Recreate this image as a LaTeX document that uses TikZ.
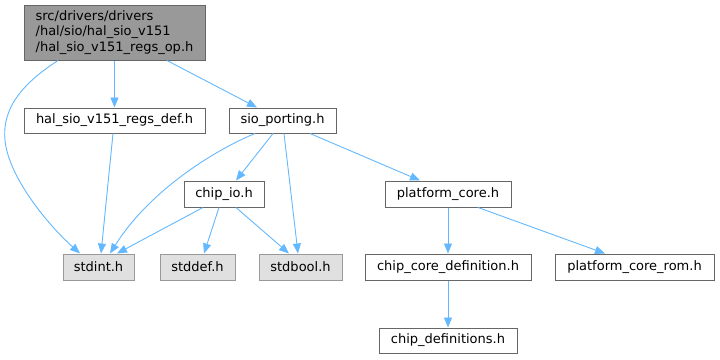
\documentclass[tikz,border=0pt]{standalone}
\usepackage{fontspec}
\setmainfont{DejaVu Sans}
\usetikzlibrary{arrows.meta}
\definecolor{edgeblue}{HTML}{63B8FF}
\definecolor{rootfill}{HTML}{999999}
\definecolor{darkborder}{HTML}{666666}
\definecolor{sysfill}{HTML}{E0E0E0}
\definecolor{sysborder}{HTML}{999999}
\tikzset{
  filebox/.style={draw=darkborder, fill=white, line width=1pt, inner sep=0pt, font=\fontsize{13}{15.5}\selectfont},
  rootbox/.style={filebox, fill=rootfill, align=left},
  sysbox/.style={filebox, draw=sysborder, fill=sysfill},
  dep/.style={draw=edgeblue, line width=0.9pt, -{Triangle[length=10pt,width=8pt]}},
}
\begin{document}
\begin{tikzpicture}[x=1pt,y=-1pt]
\useasboundingbox (0,0) rectangle (720,359);
\node[rootbox, minimum width=181pt, minimum height=55pt] (root) at (114.5,32.5) {src/drivers/drivers\\/hal/sio/hal\_sio\_v151\\/hal\_sio\_v151\_regs\_op.h};
\node[filebox, minimum width=181pt, minimum height=25pt] (regs) at (114.5,120.5) {hal\_sio\_v151\_regs\_def.h};
\node[filebox, minimum width=107pt, minimum height=25pt] (sio) at (282.5,120.5) {sio\_porting.h};
\node[filebox, minimum width=80pt, minimum height=26pt] (chipio) at (224,194) {chip\_io.h};
\node[sysbox, minimum width=71pt, minimum height=26pt] (stdint) at (98.5,267) {stdint.h};
\node[sysbox, minimum width=75pt, minimum height=26pt] (stddef) at (197.5,267) {stddef.h};
\node[sysbox, minimum width=83pt, minimum height=26pt] (stdbool) at (300.5,267) {stdbool.h};
\node[filebox, minimum width=126pt, minimum height=26pt] (pcore) at (448,194) {platform\_core.h};
\node[filebox, minimum width=166pt, minimum height=26pt] (ccd) at (448,267) {chip\_core\_definition.h};
\node[filebox, minimum width=159pt, minimum height=26pt] (pcrom) at (634.5,267) {platform\_core\_rom.h};
\node[filebox, minimum width=138pt, minimum height=25pt] (cdefs) at (448,340.5) {chip\_definitions.h};

% edges
\draw[dep] ([xshift=-56.5pt]root.south) .. controls (20,85) and (2,110) .. (5,140) .. controls (8,175) and (45,222) .. ([xshift=-18.5pt]stdint.north);
\draw[dep] (root.south) -- (regs.north);
\draw[dep] ([xshift=52.5pt]root.south) -- ([xshift=-25.5pt]sio.north);
\draw[dep] ([xshift=-1.5pt]regs.south) -- ([xshift=2.5pt]stdint.north);
\draw[dep] ([xshift=-27.5pt]sio.south) .. controls (215,150) and (150,190) .. ([xshift=11.5pt]stdint.north);
\draw[dep] ([xshift=-9.5pt]sio.south) -- ([xshift=12pt]chipio.north);
\draw[dep] ([xshift=1.5pt]sio.south) -- ([xshift=-2.5pt]stdbool.north);
\draw[dep] ([xshift=27.5pt]sio.south) -- ([xshift=-28pt]pcore.north);
\draw[dep] ([xshift=-21pt]chipio.south) -- ([xshift=18.5pt]stdint.north);
\draw[dep] ([xshift=-5pt]chipio.south) -- ([xshift=6.5pt]stddef.north);
\draw[dep] ([xshift=12pt]chipio.south) -- ([xshift=-11.5pt]stdbool.north);
\draw[dep] (pcore.south) -- (ccd.north);
\draw[dep] ([xshift=30pt]pcore.south) -- ([xshift=-29.5pt]pcrom.north);
\draw[dep] (ccd.south) -- (cdefs.north);
\end{tikzpicture}
\end{document}
